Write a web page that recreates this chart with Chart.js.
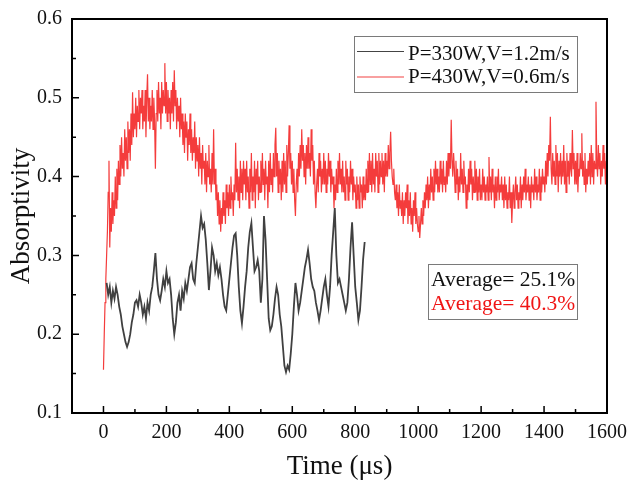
<!DOCTYPE html>
<html>
<head>
<meta charset="utf-8">
<script src="https://cdn.jsdelivr.net/npm/chart.js@4.4.1/dist/chart.umd.min.js"></script>
<style>
html,body{margin:0;padding:0;background:#fff;}
#wrap{position:relative;width:630px;height:483px;background:#fff;}
canvas{position:absolute;left:0;top:0;}
.t{position:absolute;font-family:"Liberation Serif","Times New Roman",serif;white-space:nowrap;}
.box{position:absolute;border:1px solid #7a7a7a;box-sizing:border-box;}
.ln{position:absolute;}
</style>
</head>
<body>
<div id="wrap">
<canvas id="c" width="630" height="483"></canvas>
<div class="box" style="left:354px;top:36px;width:224px;height:57px;"></div>
<div class="ln" id="l0" style="left:357px;top:51px;width:47px;height:1px;"></div>
<div class="ln" id="l1" style="left:357px;top:76px;width:47px;height:2px;"></div>
<div class="t" id="t0" style="left:408px;top:41px;font-size:21px;line-height:24px;color:#111;"></div>
<div class="t" id="t1" style="left:408px;top:64px;font-size:21px;line-height:24px;color:#111;"></div>
<div class="box" style="left:428px;top:264px;width:150px;height:56px;"></div>
<div class="t" id="a0" style="left:431px;top:266px;font-size:21.5px;line-height:26px;color:#111;"></div>
<div class="t" id="a1" style="left:431px;top:290px;font-size:21.5px;line-height:26px;color:#f01414;"></div>
</div>
<script>
// ---- data ----
const seriesNames = ['P=330W,V=1.2m/s', 'P=430W,V=0.6m/s'];
const averageTexts = ['Average= 25.1%', 'Average= 40.3%'];
const xMajorTicks = [0, 200, 400, 600, 800, 1000, 1200, 1400, 1600];
const yMajorTicks = [0.1, 0.2, 0.3, 0.4, 0.5, 0.6];
const blackStep = 5;       // μs between samples
const blackStart = 10;     // first sample time (μs)
const redStep = 2.5;
const redStart = 0;
const blackValues = [
0.265,0.25,0.26,0.24,0.255,0.245,0.26,0.25,0.235,0.225,
0.21,0.20,0.19,0.184,0.19,0.20,0.215,0.225,0.24,0.243,
0.235,0.25,0.24,0.225,0.235,0.22,0.24,0.23,0.25,0.26,
0.28,0.303,0.27,0.25,0.243,0.255,0.27,0.26,0.28,0.265,
0.27,0.25,0.22,0.20,0.215,0.24,0.25,0.23,0.255,0.245,
0.265,0.255,0.27,0.285,0.29,0.27,0.265,0.29,0.31,0.33,
0.35,0.335,0.34,0.32,0.29,0.256,0.28,0.31,0.30,0.28,
0.29,0.275,0.285,0.27,0.25,0.235,0.23,0.25,0.27,0.29,
0.31,0.325,0.328,0.30,0.26,0.23,0.214,0.235,0.26,0.28,
0.31,0.33,0.341,0.31,0.28,0.285,0.294,0.28,0.24,0.27,
0.35,0.32,0.27,0.22,0.205,0.21,0.225,0.245,0.26,0.25,
0.225,0.21,0.185,0.16,0.152,0.16,0.155,0.175,0.20,0.235,
0.265,0.25,0.23,0.24,0.255,0.27,0.285,0.295,0.307,0.29,
0.27,0.26,0.255,0.24,0.23,0.218,0.23,0.245,0.26,0.27,
0.25,0.235,0.26,0.30,0.33,0.36,0.30,0.265,0.27,0.26,
0.25,0.24,0.23,0.24,0.27,0.31,0.342,0.30,0.26,0.24,
0.218,0.23,0.26,0.295,0.317
];
const redValues = [
0.155,0.20,0.24,0.27,0.30,0.33,0.38,0.42,0.31,0.36,0.33,0.38,0.34,0.37,0.35,0.40,0.36,0.41,0.37,0.42,
0.39,0.44,0.40,0.45,0.41,0.43,0.40,0.46,0.42,0.45,0.41,0.47,0.43,0.46,0.42,0.48,0.44,0.507,0.45,0.48,
0.46,0.50,0.45,0.49,0.47,0.51,0.46,0.50,0.48,0.51,0.46,0.49,0.47,0.51,0.45,0.50,0.53,0.47,0.50,0.46,
0.49,0.47,0.51,0.46,0.50,0.47,0.41,0.48,0.51,0.47,0.52,0.48,0.50,0.46,0.52,0.48,0.51,0.49,0.544,0.48,
0.52,0.47,0.51,0.48,0.50,0.46,0.51,0.48,0.52,0.47,0.535,0.49,0.51,0.46,0.50,0.47,0.49,0.45,0.50,0.46,
0.48,0.44,0.47,0.43,0.48,0.45,0.47,0.42,0.46,0.44,0.48,0.43,0.46,0.42,0.45,0.43,0.47,0.41,0.45,0.42,
0.44,0.40,0.45,0.41,0.43,0.39,0.44,0.41,0.42,0.39,0.43,0.38,0.42,0.40,0.44,0.39,0.41,0.38,0.43,0.39,
0.46,0.39,0.41,0.37,0.39,0.35,0.38,0.34,0.37,0.33,0.36,0.34,0.38,0.35,0.37,0.34,0.39,0.36,0.38,0.35,
0.39,0.36,0.40,0.37,0.38,0.35,0.39,0.37,0.443,0.38,0.41,0.37,0.40,0.36,0.42,0.38,0.41,0.37,0.42,0.39,
0.41,0.37,0.42,0.38,0.40,0.36,0.41,0.38,0.43,0.37,0.40,0.38,0.42,0.36,0.41,0.39,0.42,0.37,0.40,0.38,
0.42,0.38,0.43,0.39,0.41,0.37,0.42,0.39,0.40,0.36,0.42,0.38,0.43,0.39,0.41,0.38,0.43,0.40,0.44,0.462,
0.40,0.43,0.38,0.42,0.39,0.41,0.37,0.42,0.38,0.43,0.39,0.42,0.38,0.44,0.40,0.43,0.465,0.41,0.43,0.39,
0.42,0.38,0.41,0.37,0.35,0.39,0.41,0.38,0.43,0.40,0.44,0.41,0.46,0.42,0.44,0.40,0.43,0.39,0.44,0.41,
0.45,0.41,0.43,0.40,0.46,0.42,0.44,0.39,0.42,0.38,0.36,0.39,0.41,0.38,0.43,0.40,0.42,0.38,0.41,0.39,
0.43,0.39,0.42,0.38,0.41,0.39,0.43,0.40,0.42,0.38,0.41,0.39,0.40,0.36,0.39,0.37,0.41,0.38,0.42,0.39,
0.43,0.39,0.41,0.38,0.42,0.38,0.40,0.37,0.42,0.39,0.41,0.37,0.40,0.38,0.42,0.39,0.41,0.37,0.40,0.38,
0.39,0.36,0.40,0.37,0.39,0.36,0.40,0.38,0.39,0.36,0.40,0.37,0.39,0.37,0.41,0.38,0.42,0.38,0.43,0.39,
0.42,0.38,0.43,0.39,0.41,0.38,0.43,0.40,0.42,0.38,0.43,0.39,0.42,0.40,0.43,0.39,0.42,0.38,0.43,0.40,
0.42,0.40,0.44,0.41,0.43,0.457,0.42,0.40,0.39,0.41,0.38,0.37,0.39,0.36,0.38,0.35,0.39,0.36,0.37,0.35,
0.38,0.34,0.37,0.35,0.38,0.36,0.39,0.34,0.37,0.35,0.38,0.34,0.36,0.33,0.37,0.35,0.38,0.34,0.36,0.34,
0.33,0.35,0.322,0.34,0.36,0.34,0.37,0.35,0.38,0.36,0.39,0.37,0.40,0.36,0.39,0.37,0.41,0.38,0.40,0.37,
0.41,0.38,0.42,0.39,0.41,0.38,0.40,0.38,0.42,0.39,0.41,0.38,0.42,0.39,0.40,0.38,0.42,0.39,0.43,0.40,
0.43,0.41,0.472,0.42,0.40,0.43,0.41,0.38,0.42,0.39,0.41,0.37,0.40,0.38,0.43,0.39,0.41,0.38,0.42,0.39,
0.40,0.36,0.39,0.37,0.41,0.38,0.42,0.39,0.41,0.37,0.40,0.38,0.42,0.38,0.41,0.37,0.40,0.38,0.41,0.37,
0.39,0.37,0.41,0.38,0.40,0.37,0.39,0.38,0.40,0.37,0.425,0.38,0.40,0.37,0.41,0.38,0.39,0.36,0.40,0.37,
0.40,0.38,0.41,0.37,0.39,0.38,0.40,0.37,0.39,0.36,0.40,0.37,0.39,0.36,0.38,0.37,0.40,0.36,0.38,0.341,
0.37,0.39,0.36,0.38,0.40,0.37,0.39,0.36,0.38,0.37,0.40,0.36,0.39,0.37,0.40,0.38,0.41,0.37,0.39,0.38,
0.40,0.37,0.39,0.36,0.40,0.38,0.39,0.37,0.41,0.38,0.40,0.37,0.39,0.38,0.41,0.37,0.40,0.38,0.41,0.39,
0.40,0.38,0.42,0.39,0.43,0.40,0.44,0.42,0.476,0.41,0.39,0.43,0.40,0.42,0.39,0.44,0.40,0.43,0.38,0.42,
0.40,0.43,0.39,0.42,0.40,0.44,0.39,0.42,0.38,0.43,0.40,0.42,0.39,0.43,0.41,0.40,0.459,0.41,0.43,0.39,
0.42,0.39,0.43,0.38,0.41,0.40,0.43,0.41,0.455,0.40,0.42,0.39,0.43,0.38,0.41,0.39,0.42,0.40,0.43,0.39,
0.44,0.40,0.43,0.39,0.42,0.41,0.495,0.42,0.40,0.44,0.41,0.43,0.39,0.42,0.40,0.44,0.41,0.43,0.39,0.42,0.40
];
const seriesColors = ['#404040', '#f43c3c'];
const legendLineColors = ['#444444', '#f8a0a0'];

function toPoints(start, step, values) {
  return values.map((v, i) => ({ x: start + i * step, y: v }));
}

const FONT = '"Liberation Serif","Times New Roman",serif';

// inward ticks + frame
const framePlugin = {
  id: 'frame',
  afterDraw(chart) {
    const ctx = chart.ctx, a = chart.chartArea, x = chart.scales.x, y = chart.scales.y;
    ctx.save();
    ctx.strokeStyle = '#000000';
    ctx.lineWidth = 1.5;
    ctx.beginPath();
    x.ticks.forEach(t => {
      const px = x.getPixelForValue(t.value);
      if (px <= a.left + 1 || px >= a.right - 1) return;
      const len = xMajorTicks.includes(t.value) ? 7 : 4;
      ctx.moveTo(px, a.bottom); ctx.lineTo(px, a.bottom - len);
    });
    y.ticks.forEach(t => {
      const py = y.getPixelForValue(t.value);
      if (py <= a.top + 1 || py >= a.bottom - 1) return;
      const major = yMajorTicks.some(m => Math.abs(m - t.value) < 1e-6);
      const len = major ? 7 : 4;
      ctx.moveTo(a.left, py); ctx.lineTo(a.left + len, py);
    });
    ctx.stroke();
    ctx.lineWidth = 2;
    ctx.beginPath();
    ctx.rect(a.left, a.top, a.right - a.left, a.bottom - a.top);
    ctx.stroke();
    ctx.restore();
  }
};

new Chart(document.getElementById('c'), {
  type: 'line',
  data: {
    datasets: [
      { label: seriesNames[0], data: toPoints(blackStart, blackStep, blackValues), borderColor: seriesColors[0], borderWidth: 1.8, pointRadius: 0, tension: 0, fill: false },
      { label: seriesNames[1], data: toPoints(redStart, redStep, redValues), borderColor: seriesColors[1], borderWidth: 1.2, pointRadius: 0, tension: 0, fill: false }
    ]
  },
  options: {
    responsive: false,
    animation: false,
    events: [],
    layout: { padding: { top: 19, right: 23, left: 0, bottom: 0 } },
    plugins: { legend: { display: false }, tooltip: { enabled: false } },
    scales: {
      x: {
        type: 'linear', min: -100, max: 1600,
        grid: { display: false, drawTicks: false },
        border: { display: true, color: '#000', width: 2 },
        ticks: {
          stepSize: 100, autoSkip: false, maxRotation: 0, padding: 8,
          color: '#111', font: { family: FONT, size: 20 },
          callback: v => xMajorTicks.includes(v) ? String(v) : ''
        },
        title: { display: true, text: 'Time (μs)', color: '#111', font: { family: FONT, size: 27 }, padding: { top: 0, bottom: 0 } },
        afterFit: s => { s.height = 70; s.paddingLeft = 0; s.paddingRight = 0; }
      },
      y: {
        type: 'linear', min: 0.1, max: 0.6,
        grid: { display: false, drawTicks: false },
        border: { display: true, color: '#000', width: 2 },
        ticks: {
          stepSize: 0.05, autoSkip: false, padding: 10,
          color: '#111', font: { family: FONT, size: 20 },
          callback: v => yMajorTicks.some(m => Math.abs(m - v) < 1e-6) ? v.toFixed(1) : ''
        },
        title: { display: true, text: 'Absorptivity', color: '#111', font: { family: FONT, size: 27 }, padding: { top: 6, bottom: 0 } },
        afterFit: s => { s.width = 72; s.paddingTop = 0; s.paddingBottom = 0; }
      }
    }
  },
  plugins: [framePlugin]
});

// legend + annotation text
['t0', 't1'].forEach((id, i) => { document.getElementById(id).textContent = seriesNames[i]; });
['l0', 'l1'].forEach((id, i) => { document.getElementById(id).style.background = legendLineColors[i]; });
['a0', 'a1'].forEach((id, i) => { document.getElementById(id).textContent = averageTexts[i]; });
</script>
</body>
</html>
